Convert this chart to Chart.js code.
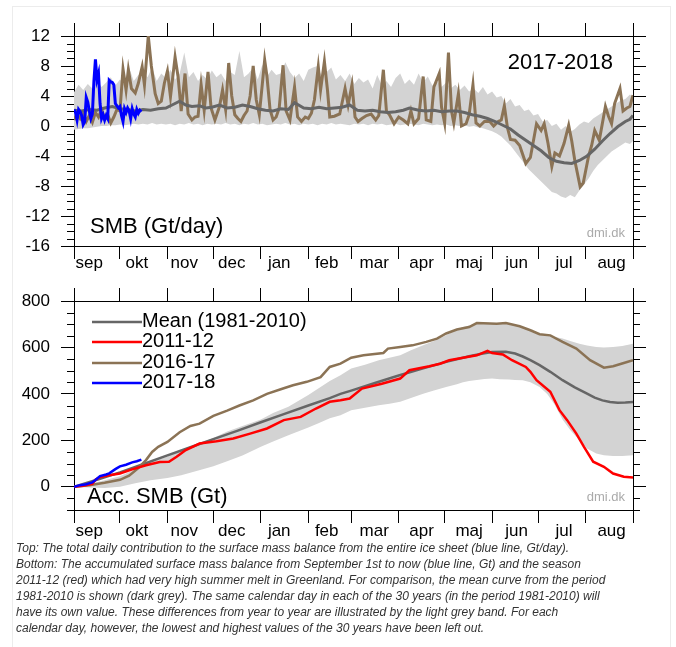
<!DOCTYPE html>
<html>
<head>
<meta charset="utf-8">
<script src="https://cdn.jsdelivr.net/npm/chart.js@4.4.0/dist/chart.umd.min.js"></script>
<style>
  html, body { margin: 0; padding: 0; background: #fff; }
  body { width: 676px; height: 647px; position: relative; overflow: hidden; }
  .frame { position: absolute; left: 12px; top: 6px; width: 657px; height: 700px; border: 1px solid #ececec; }
  #smbChart { position: absolute; left: 0; top: 0; }
  #accChart { position: absolute; left: 0; top: 275px; }
  .caption { position: absolute; left: 16px; top: 540px; white-space: nowrap; color: #333;
    font: italic 12px/16px 'Liberation Sans Narrow', 'Arial Narrow', sans-serif; }
</style>
</head>
<body>
<div class="frame"></div>
<canvas id="smbChart" width="676" height="275"></canvas>
<canvas id="accChart" width="676" height="268"></canvas>
<div class="caption">Top: The total daily contribution to the surface mass balance from the entire ice sheet (blue line, Gt/day).<br>Bottom: The accumulated surface mass balance from September 1st to now (blue line, Gt) and the season<br>2011-12 (red) which had very high summer melt in Greenland. For comparison, the mean curve from the period<br>1981-2010 is shown (dark grey). The same calendar day in each of the 30 years (in the period 1981-2010) will<br>have its own value. These differences from year to year are illustrated by the light grey band. For each<br>calendar day, however, the lowest and highest values of the 30 years have been left out.</div>
<script>
// Season axis: days since 1 September
const monthEdges = [0, 30, 61, 91, 122, 153, 181, 212, 242, 273, 303, 334, 365];
const monthNames = ['sep', 'okt', 'nov', 'dec', 'jan', 'feb', 'mar', 'apr', 'maj', 'jun', 'jul', 'aug'];
const monthLabelDays = [10, 41, 72, 103, 134, 165, 196, 227, 258, 289, 320, 351];
const legendLabels = ['Mean (1981-2010)', '2011-12', '2016-17', '2017-18'];

// Top panel: daily SMB (Gt/day)
const smbBandDays = [0, 3, 6, 9, 12, 15, 18, 21, 24, 27, 30, 33, 36, 39, 42, 45, 48, 51, 54, 57,
    60, 63, 66, 69, 72, 75, 78, 81, 84, 87, 90, 93, 96, 99, 102, 105, 108, 111, 114, 117,
    120, 123, 126, 129, 132, 135, 138, 141, 144, 147, 150, 153, 156, 159, 162, 165, 168, 171, 174, 177,
    180, 183, 186, 189, 192, 195, 198, 201, 204, 207, 210, 213, 216, 219, 222, 225, 228, 231, 234, 237,
    240, 243, 246, 249, 252, 255, 258, 261, 264, 267, 270, 273, 276, 279, 282, 285, 288, 291, 294, 297,
    300, 303, 306, 309, 312, 315, 318, 321, 324, 327, 330, 333, 336, 339, 342, 345, 348, 351, 354, 357,
    360, 363, 365];
const smbBandHigh = [4.5, 5.5, 4.8, 5.6, 5.0, 6.0, 5.2, 5.8, 6.5, 5.4,
    6.2, 5.5, 7.8, 6.0, 6.8, 7.2, 6.5, 7.8, 6.0, 7.0,
    6.4, 7.5, 6.2, 7.0, 9.8, 6.5, 7.2, 6.0, 6.8, 6.2,
    7.4, 6.5, 7.0, 6.0, 7.2, 6.8, 10.0, 6.5, 7.0, 7.8,
    6.2, 8.2, 6.6, 7.5, 6.8, 7.0, 8.5, 7.2, 6.4, 7.0,
    6.0, 7.5, 7.8, 8.0, 6.5, 7.2, 7.8, 6.2, 6.8, 6.0,
    7.0, 5.6, 6.4, 5.8, 6.2, 5.0, 6.8, 5.4, 6.0, 5.2,
    6.4, 7.0, 5.6, 6.2, 5.5, 7.0, 5.8, 6.6, 5.4, 6.0,
    5.2, 5.8, 5.0, 5.5, 4.8, 5.4, 4.6, 5.0, 4.4, 5.2,
    4.2, 4.6, 3.8, 4.0, 3.0, 3.6, 2.6, 2.8, 2.0, 2.2,
    1.4, 1.6, 0.6, 0.8, 0.0, 0.3, -0.5, 0.0, -0.8, -0.4,
    0.2, 0.6, 0.4, 1.0, 1.4, 1.8, 2.2, 2.6, 3.0, 3.4,
    3.6, 4.2, 3.8];
const smbBandLow = [-0.5, -0.4, -0.3, -0.3, -0.2, -0.1, 0.0, 0.0, 0.1, 0.1,
    0.2, 0.1, 0.2, 0.3, 0.2, 0.3, 0.2, 0.4, 0.2, 0.3,
    0.2, 0.3, 0.1, 0.3, 0.2, 0.4, 0.2, 0.3, 0.1, 0.3,
    0.2, 0.3, 0.2, 0.4, 0.2, 0.3, 0.1, 0.3, 0.2, 0.4,
    0.2, 0.3, 0.1, 0.2, 0.3, 0.2, 0.4, 0.2, 0.3, 0.1,
    0.3, 0.2, 0.3, 0.1, 0.3, 0.2, 0.4, 0.2, 0.3, 0.2,
    0.1, 0.3, 0.2, 0.3, 0.1, 0.3, 0.2, 0.3, 0.1, 0.2,
    0.3, 0.1, 0.2, 0.3, 0.2, 0.1, 0.3, 0.2, 0.1, 0.2,
    0.1, 0.2, 0.0, 0.1, 0.0, 0.1, -0.1, 0.0, -0.2, -0.3,
    -0.5, -0.7, -1.0, -1.4, -2.0, -2.6, -3.4, -4.2, -5.0, -5.8,
    -6.4, -7.0, -7.6, -8.2, -8.8, -9.0, -9.4, -9.6, -9.2, -9.5,
    -8.6, -7.8, -7.0, -6.0, -5.2, -4.6, -4.0, -3.4, -3.0, -2.6,
    -2.2, -2.4, -2.0];

const smbMeanDays = [0, 5, 10, 15, 20, 25, 30, 35, 40, 45, 50, 55, 60, 65, 69, 73, 77, 82, 86, 90,
    95, 100, 105, 110, 115, 120, 125, 130, 135, 140, 144, 150, 155, 160, 165, 170, 175, 180, 185, 190,
    195, 200, 205, 210, 215, 219, 225, 230, 235, 240, 245, 250, 255, 260, 265, 270, 275, 280, 285, 290,
    295, 300, 305, 310, 315, 320, 325, 330, 335, 340, 345, 350, 355, 360, 363, 365];
const smbMean = [2.1, 2.0, 2.2, 2.1, 2.4, 2.6, 2.3, 2.2, 2.0, 2.2, 2.1, 2.3, 2.4, 2.9, 3.3, 2.8, 2.6, 2.7, 2.4, 2.5,
    2.8, 2.4, 2.5, 2.8, 2.6, 2.3, 2.1, 2.0, 2.3, 2.2, 3.1, 2.4, 2.3, 2.5, 2.3, 2.4, 2.5, 2.8, 2.1, 2.0,
    2.1, 1.9, 1.8, 1.9, 2.1, 2.4, 2.1, 2.0, 2.1, 1.9, 2.0, 2.0, 1.8, 1.5, 1.3, 1.0, 0.6, 0.1, -0.4, -1.2,
    -1.9, -2.6, -3.3, -4.2, -4.7, -4.9, -5.0, -4.6, -4.0, -3.1, -2.0, -1.0, -0.1, 0.6, 0.9, 1.4];

const smbPrevDays = [0, 2, 4, 6, 8, 10, 12, 14, 16, 18, 20, 22, 24, 26, 28, 30, 32, 34, 35.5, 37.5,
    40, 42, 44.5, 46, 48.5, 50.5, 53, 55, 57, 59, 61, 63, 66, 68, 70, 72.5, 74.5, 77, 79, 81,
    83, 85, 87.5, 89.5, 92, 95, 97, 99, 101, 103, 105, 107, 109, 111, 113, 115, 117, 119, 121, 124.5,
    126, 128, 130, 132, 134, 136.5, 138.5, 141, 144, 146, 148.5, 151, 153, 155, 157, 159.5, 161, 163.5, 165.5, 167,
    170, 173.5, 177, 179, 181.5, 183.5, 185.5, 188, 191, 194, 197, 199, 202, 204, 206, 209, 212, 215, 218, 220,
    222, 225, 228, 230, 233, 235, 238.5, 240, 242, 244.5, 246.5, 248, 251, 253, 256, 258, 260.5, 262.5, 265, 268,
    271.5, 274, 277, 279, 281, 283, 285, 288, 291, 295, 298, 302, 305, 307, 309.5, 312, 314, 317, 320, 323,
    325, 327, 330.5, 332.5, 336, 338, 340, 343, 347, 349, 351, 353, 356.5, 358.5, 361, 363, 365];
const smbPrev = [0.8, 1.6, 1.0, 1.8, 0.6, 1.4, 0.5, 1.8, 1.2, 2.2, 1.0, 1.5, 0.4, 1.2, 2.2, 2.0, 7.6, 4.8, 7.5, 5.0,
    4.4, 5.7, 7.9, 5.5, 12.0, 8.0, 4.3, 3.0, 3.3, 5.7, 7.3, 3.9, 9.2, 6.5, 2.0, 7.0, 1.6, 0.8, 1.2, 1.3,
    5.5, 2.1, 7.2, 2.4, 0.8, 2.6, 4.8, 2.2, 8.4, 4.0, 1.5, 1.0, 0.6, 1.4, 2.0, 4.0, 8.0, 3.5, 1.5, 8.8,
    6.6, 2.2, 0.8, 1.2, 2.4, 8.1, 2.0, 0.8, 5.2, 1.2, 0.6, 1.2, 1.0, 1.7, 3.5, 7.9, 4.8, 8.6, 4.8, 1.2,
    1.3, 1.6, 5.0, 2.8, 5.5, 1.2, 0.6, 1.0, 1.4, 1.6, 0.8, 1.4, 7.5, 2.0, 1.5, 0.3, 1.2, 0.8, 0.3, 2.0,
    0.3, 1.0, 6.6, 0.8, 0.6, 5.2, 7.0, 2.5, 0.4, 9.8, 2.0, 0.4, 4.3, 0.0, 0.3, 1.5, 5.5, 0.4, 0.0, 0.6,
    0.6, 0.0, 0.6, 0.8, 2.7, -0.2, -1.8, -1.9, -2.6, -5.0, -4.2, 0.3, -0.6, 0.3, -2.3, -5.4, -3.6, -4.0, -2.3, 0.1,
    -2.0, -4.6, -8.1, -7.6, -4.0, -2.6, -0.6, -1.9, 2.6, 1.3, 0.3, 3.0, 5.0, 2.0, 2.4, 2.6, 4.1];

const smbNowDays = [0, 1, 2, 3, 4, 5, 6, 7, 8, 9, 10, 11, 12, 13, 14, 15, 16, 17, 18, 19,
    20, 21, 22, 23, 24, 25, 26, 27, 28, 29, 30, 31, 32, 33, 34, 35, 36, 37, 38, 39,
    40, 41, 42, 43, 44];
const smbNow = [2.2, 1.8, 0.8, 2.2, 1.9, 1.4, 0.2, 0.6, 3.8, 3.2, 2.0, 1.0, 1.6, 6.0, 8.9, 6.2, 7.0, 3.0, 1.0, 1.5,
    0.8, 1.4, 1.0, 6.1, 5.9, 5.8, 5.5, 3.0, 2.7, 2.4, 2.6, 1.4, 0.6, 2.3, 1.8, 2.4, 2.0, 1.0, 2.3, 1.6,
    1.2, 2.2, 1.7, 2.1, 1.9];

// Bottom panel: accumulated SMB (Gt)
const accBandDays = [0, 10, 20, 30, 40, 50, 61, 70, 80, 91, 100, 110, 122, 130, 140, 153, 160, 167, 174, 181,
    190, 199, 206, 213, 220, 228, 235, 243, 250, 254, 258, 263, 268, 273, 278, 284, 288, 293, 298, 304,
    309, 314, 319, 324, 330, 335, 341, 346, 352, 358, 365];
const accBandHigh = [0, 12, 28, 45, 75, 105, 130, 160, 182, 210, 238, 262, 290, 318, 345, 395, 425, 455, 480, 509,
    525, 545, 556, 566, 588, 609, 628, 652, 676, 688, 695, 705, 706, 705, 704, 702, 696, 688, 676, 660,
    652, 645, 638, 628, 616, 608, 602, 600, 602, 606, 616];
const accBandLow = [0, -3, -5, 0, 15, 28, 38, 50, 68, 88, 110, 135, 172, 195, 222, 255, 275, 295, 308, 330,
    340, 351, 358, 366, 382, 401, 415, 430, 442, 450, 455, 460, 464, 466, 463, 462, 460, 459, 450, 430,
    400, 352, 290, 245, 200, 165, 143, 136, 132, 133, 136];

const accMeanDays = [0, 15, 30, 45, 61, 76, 91, 107, 122, 137, 153, 167, 174, 181, 197, 212, 228, 243, 258, 267,
    273, 282, 288, 293, 298, 304, 311, 319, 327, 335, 340, 345, 350, 355, 360, 365];
const accMean = [0, 30, 62, 97, 135, 170, 205, 242, 278, 313, 350, 382, 400, 414, 448, 479, 510, 538, 562, 574,
    580, 581, 574, 561, 545, 524, 495, 459, 428, 401, 384, 372, 365, 362, 363, 365];

const accRedDays = [0, 6, 12, 14, 17, 23, 30, 38, 47, 56, 62, 67, 73, 82, 93, 104, 115, 126, 137, 148,
    158, 167, 174, 180, 188, 201, 213, 219, 232, 239, 245, 254, 263, 270, 273, 280, 286, 295, 298, 302,
    311, 317, 322, 328, 333, 339, 346, 352, 359, 365];
const accRed = [0, 4, 12, 30, 42, 50, 57, 75, 93, 107, 108, 129, 158, 186, 196, 208, 229, 251, 287, 301,
    337, 366, 373, 380, 423, 444, 466, 502, 519, 530, 545, 556, 566, 585, 576, 570, 545, 516, 495, 459,
    409, 330, 287, 229, 172, 108, 86, 57, 43, 40];

const accPrevDays = [0, 10, 20, 30, 36, 42, 47, 51, 55, 61, 69, 76, 82, 91, 100, 108, 117, 126, 135, 143,
    152, 161, 167, 174, 181, 189, 202, 205, 213, 221, 230, 237, 243, 250, 258, 263, 276, 282, 291, 298,
    304, 311, 319, 328, 337, 346, 352, 359, 365];
const accPrev = [0, 7, 17, 30, 48, 80, 115, 150, 172, 193, 235, 262, 272, 305, 328, 350, 372, 400, 420, 437,
    452, 472, 516, 530, 556, 566, 576, 595, 602, 609, 624, 638, 660, 677, 688, 705, 702, 705, 691, 674,
    657, 652, 624, 595, 545, 513, 519, 533, 545];

const accNowDays = [0, 4, 8, 12, 14, 17, 21, 23, 27, 30, 34, 38, 41, 44];
const accNow = [0, 7, 11, 19, 29, 46, 53, 58, 76, 88, 95, 105, 110, 117];

const colors = { band: '#d3d3d3', mean: '#666666', red: '#ff0000', prev: '#8b7355', now: '#0000ff' };

Chart.defaults.font.family = "'Liberation Sans', Arial, Helvetica, sans-serif";
Chart.defaults.color = '#000';

const pts = (xs, ys) => xs.map((x, i) => ({ x: x, y: ys[i] }));

function line(label, xs, ys, color, order, width) {
    return { label: label, data: pts(xs, ys), borderColor: color, borderWidth: width, pointRadius: 0,
        fill: false, tension: 0, order: order };
}

function band(xs, hi, lo) {
    return [
        { label: 'band-high', data: pts(xs, hi), borderColor: 'rgba(0,0,0,0)', borderWidth: 0,
          backgroundColor: colors.band, pointRadius: 0, fill: '+1', order: 10 },
        { label: 'band-low', data: pts(xs, lo), borderColor: 'rgba(0,0,0,0)', borderWidth: 0,
          pointRadius: 0, fill: false, order: 11 }
    ];
}

function monthScales(labelPad, bottomHeight) {
    return {
        x: {
            type: 'linear', position: 'bottom', min: 0, max: 365,
            afterBuildTicks: s => {
                s.ticks = monthEdges.concat(monthLabelDays).sort((a, b) => a - b).map(v => ({ value: v }));
            },
            afterFit: s => { s.height = bottomHeight; },
            ticks: {
                autoSkip: false, maxRotation: 0, minRotation: 0, padding: labelPad, font: { size: 17 },
                callback: v => {
                    const i = monthLabelDays.indexOf(v);
                    return i < 0 ? '' : monthNames[i];
                }
            },
            grid: {
                drawOnChartArea: false, tickLength: 13, tickWidth: 1,
                tickColor: c => (c.tick && monthEdges.includes(c.tick.value)) ? '#000' : 'rgba(0,0,0,0)'
            },
            border: { color: '#000', width: 1 }
        },
        xTop: {
            type: 'linear', position: 'top', min: 0, max: 365,
            afterBuildTicks: s => { s.ticks = monthEdges.map(v => ({ value: v })); },
            afterFit: s => { s.height = 13; },
            ticks: { display: false },
            grid: { drawOnChartArea: false, tickLength: 13, tickColor: '#000' },
            border: { color: '#000', width: 1 }
        }
    };
}

function valueScales(min, max, step) {
    return {
        y: {
            position: 'left', min: min, max: max,
            afterFit: s => { s.width = 74; },
            ticks: { stepSize: step, includeBounds: false, padding: 11, font: { size: 17 } },
            grid: { drawOnChartArea: false, tickLength: 13, tickColor: '#000' },
            border: { color: '#000', width: 1 }
        },
        y2: {
            position: 'right', min: min, max: max,
            afterFit: s => { s.width = 13; },
            ticks: { stepSize: step, includeBounds: false, display: false },
            grid: { drawOnChartArea: false, tickLength: 13, tickColor: '#000' },
            border: { color: '#000', width: 1 }
        }
    };
}

// minor ticks, panel texts and legend
const decor = {
    id: 'decor',
    afterDraw(chart, args, o) {
        const ctx = chart.ctx;
        const a = chart.chartArea;
        const y = chart.scales.y;
        ctx.save();
        ctx.strokeStyle = '#000';
        ctx.lineWidth = 1;
        ctx.beginPath();
        for (let v = y.min; v <= y.max; v += o.minor) {
            if (v % o.major === 0) continue;
            const py = Math.round(y.getPixelForValue(v)) + 0.5;
            ctx.moveTo(a.left - 7, py);
            ctx.lineTo(a.left, py);
            ctx.moveTo(a.right, py);
            ctx.lineTo(a.right + 7, py);
        }
        ctx.stroke();

        (o.texts || []).forEach(t => {
            ctx.font = t.font;
            ctx.fillStyle = t.color || '#000';
            ctx.textAlign = t.align;
            ctx.textBaseline = 'alphabetic';
            const tx = t.align === 'right' ? a.right - t.dx : a.left + t.dx;
            const ty = t.dy < 0 ? a.bottom + t.dy : a.top + t.dy;
            ctx.fillText(t.text, tx, ty);
        });

        if (o.legend) {
            legendLabels.forEach((label, i) => {
                const ds = chart.data.datasets.find(d => d.label === label);
                const ly = Math.round(a.top + 21 + i * 20.3);
                ctx.strokeStyle = ds.borderColor;
                ctx.lineWidth = 2.5;
                ctx.beginPath();
                ctx.moveTo(a.left + 18, ly);
                ctx.lineTo(a.left + 68, ly);
                ctx.stroke();
                ctx.font = "20px 'Liberation Sans', Arial, sans-serif";
                ctx.fillStyle = '#000';
                ctx.textAlign = 'left';
                ctx.textBaseline = 'alphabetic';
                ctx.fillText(label, a.left + 68, ly + 5);
            });
        }
        ctx.restore();
    }
};

const bigFont = "22px 'Liberation Sans', Arial, sans-serif";
const dmiFont = "13px 'Liberation Sans', Arial, sans-serif";

new Chart(document.getElementById('smbChart'), {
    type: 'line',
    data: {
        datasets: band(smbBandDays, smbBandHigh, smbBandLow).concat([
            line('2016-17', smbPrevDays, smbPrev, colors.prev, 4, 3),
            line('Mean (1981-2010)', smbMeanDays, smbMean, colors.mean, 3, 3),
            line('2017-18', smbNowDays, smbNow, colors.now, 1, 3)
        ])
    },
    options: {
        responsive: false,
        animation: false,
        events: [],
        layout: { padding: { top: 23, left: 0, right: 30, bottom: 0 } },
        scales: Object.assign(monthScales(-6, 29), valueScales(-16, 12, 4)),
        plugins: {
            legend: { display: false },
            tooltip: { enabled: false },
            decor: {
                minor: 1, major: 4,
                texts: [
                    { text: '2017-2018', font: bigFont, align: 'right', dx: 20, dy: 33 },
                    { text: 'SMB (Gt/day)', font: bigFont, align: 'left', dx: 16, dy: -13 },
                    { text: 'dmi.dk', font: dmiFont, color: '#aaaaaa', align: 'right', dx: 8, dy: -9 }
                ]
            }
        }
    },
    plugins: [decor]
});

new Chart(document.getElementById('accChart'), {
    type: 'line',
    data: {
        datasets: band(accBandDays, accBandHigh, accBandLow).concat([
            line('Mean (1981-2010)', accMeanDays, accMean, colors.mean, 5, 2.5),
            line('2016-17', accPrevDays, accPrev, colors.prev, 4, 2.5),
            line('2011-12', accRedDays, accRed, colors.red, 3, 2.5),
            line('2017-18', accNowDays, accNow, colors.now, 1, 2.5)
        ])
    },
    options: {
        responsive: false,
        animation: false,
        events: [],
        layout: { padding: { top: 13, left: 0, right: 30, bottom: 0 } },
        scales: Object.assign(monthScales(-2, 33), valueScales(-100, 800, 200)),
        plugins: {
            legend: { display: false },
            tooltip: { enabled: false },
            decor: {
                minor: 50, major: 200, legend: true,
                texts: [
                    { text: 'Acc. SMB (Gt)', font: bigFont, align: 'left', dx: 13, dy: -7 },
                    { text: 'dmi.dk', font: dmiFont, color: '#aaaaaa', align: 'right', dx: 8, dy: -9 }
                ]
            }
        }
    },
    plugins: [decor]
});
</script>
</body>
</html>
